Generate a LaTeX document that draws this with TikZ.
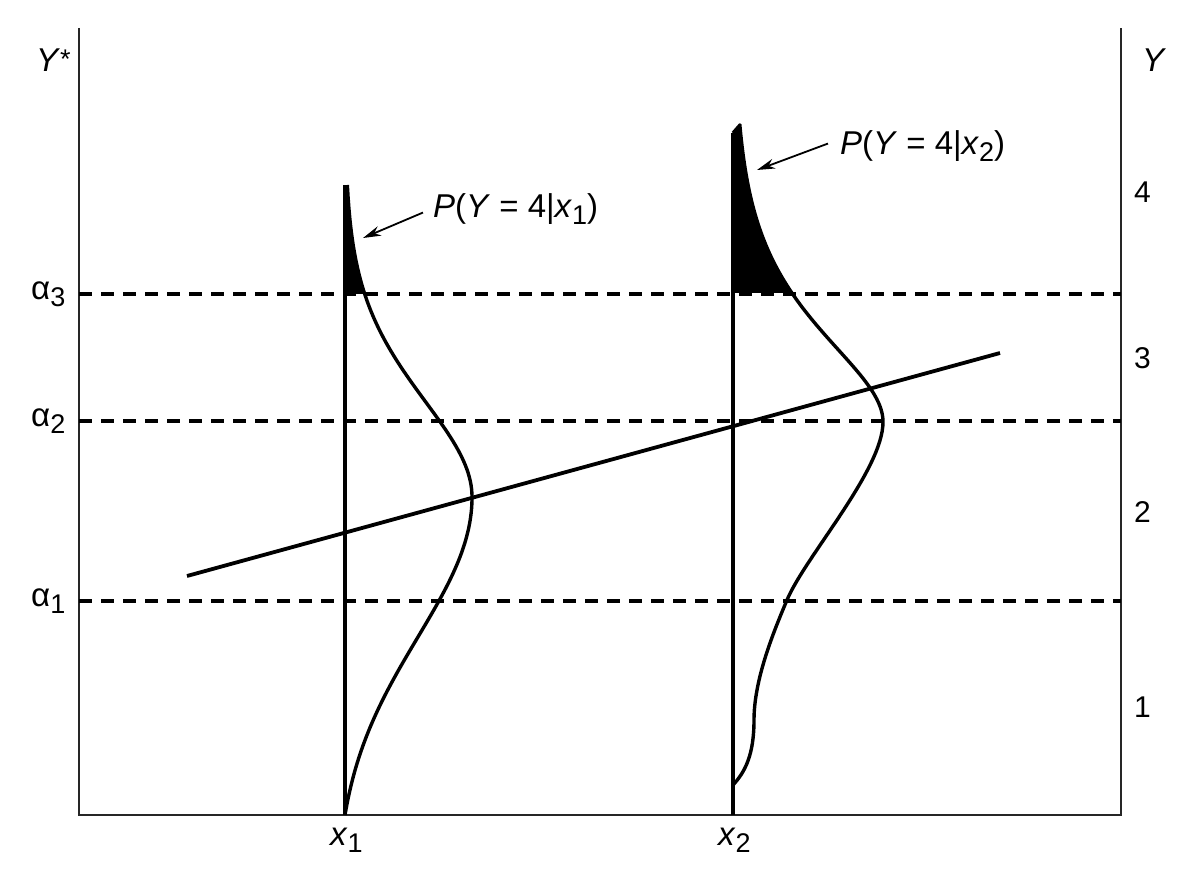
\documentclass[tikz,border=0pt]{standalone}
\usepackage{fontspec}
\setmainfont{Liberation Sans}
\usetikzlibrary{arrows.meta}
\newcommand{\mysub}[1]{\raisebox{-7pt}{\fontsize{27}{30}\selectfont #1}}
\begin{document}
\begin{tikzpicture}[x=1pt,y=-1pt,
  lbl/.style={font=\fontsize{33}{38}\selectfont, inner sep=0pt, anchor=base west},
  num/.style={font=\fontsize{30}{36}\selectfont, inner sep=0pt, anchor=base west},
  axis/.style={line width=2pt, draw=black!85},
  thr/.style={line width=3.8pt, dash pattern=on 13pt off 9pt},
  dens/.style={line width=3.4pt, line join=round},
  vline/.style={line width=3.4pt},
  reg/.style={line width=3.8pt},
  ptr/.style={line width=1.8pt, -{Stealth[length=18pt,width=10pt]}}
]
\useasboundingbox (0,0) rectangle (1198,890);
% frame
\coordinate (tl) at (79,28); \coordinate (bl) at (79,815);
\coordinate (br) at (1121,815); \coordinate (tr) at (1121,28);
\draw[axis] (tl) -- (bl) -- (br) -- (tr);
% thresholds
\coordinate (a3l) at (79,294); \coordinate (a3r) at (1121,294);
\coordinate (a2l) at (79,421); \coordinate (a2r) at (1121,421);
\coordinate (a1l) at (79,601); \coordinate (a1r) at (1121,601);
\draw[thr] (a3l) -- (a3r);
\draw[thr] (a2l) -- (a2r);
\draw[thr] (a1l) -- (a1r);
% filled tails
\fill (345,294) -- plot[domain=294:185, samples=40, variable=\t] ({345+127*exp(-0.5*((497-\t)/(95+0.05*(497-\t)))^2)}, \t) -- cycle;
\fill (733,293) -- (733,133) -- (740,125) -- plot[domain=125:293, samples=50, variable=\t] ({733+150*exp(-0.5*((422-\t)/(75+0.15*(422-\t)))^2)}, \t) -- cycle;
% verticals
\coordinate (x1b) at (345,815); \coordinate (x1t) at (345,185);
\coordinate (x2b) at (733,815); \coordinate (x2t) at (733,133);
\draw[vline] (x1b) -- (x1t);
\draw[vline] (x2b) -- (x2t);
% density at x1
\draw[dens] plot[domain=185:497, samples=80, variable=\t] ({345+127*exp(-0.5*((497-\t)/(95+0.05*(497-\t)))^2)}, \t)
  -- plot[domain=497:815, samples=80, variable=\t] ({345+127*(exp(-0.5*((\t-497)/140)^2)-0.0758)/0.9242}, \t);
% density at x2
\draw[dens] (733,133) -- (740,125)
  -- plot[domain=125:422, samples=90, variable=\t] ({733+150*exp(-0.5*((422-\t)/(75+0.15*(422-\t)))^2)}, \t)
  .. controls (883,470) and (805,557) .. (787,600)
  .. controls (773,633) and (754,680) .. (754,720)
  .. controls (754,755) and (745,772) .. (733,785);
% regression line
\coordinate (r1) at (187,576); \coordinate (r2) at (1000,353);
\draw[reg] (r1) -- (r2);
% labels
\node[lbl] (ystar) at (36,72) {\textit{Y}\raisebox{3pt}{\fontsize{27}{27}\selectfont *}};
\node[lbl] (yr) at (1142,72) {\textit{Y}};
\node[lbl] (al3) at (31,299) {α\mysub{3}};
\node[lbl] (al2) at (31,426) {α\mysub{2}};
\node[lbl] (al1) at (31,606) {α\mysub{1}};
\node[num] (n4) at (1134,203) {4};
\node[num] (n3) at (1134,368) {3};
\node[num] (n2) at (1134,522) {2};
\node[num] (n1) at (1134,717) {1};
\node[lbl] (lx1) at (330,845) {\textit{x}\mysub{1}};
\node[lbl] (lx2) at (718,845) {\textit{x}\mysub{2}};
\node[lbl] (p1) at (433,218) {\textit{P}(\textit{Y} = 4|\textit{x}\mysub{1})};
\node[lbl] (p2) at (840,155) {\textit{P}(\textit{Y} = 4|\textit{x}\mysub{2})};
% pointers
\coordinate (t1) at (363,238);
\coordinate (t2) at (757,170);
\draw[ptr] ([xshift=-10pt,yshift=-3pt]p1.west) -- (t1);
\draw[ptr] ([xshift=-12pt,yshift=3pt]p2.west) -- (t2);
\end{tikzpicture}
\end{document}
